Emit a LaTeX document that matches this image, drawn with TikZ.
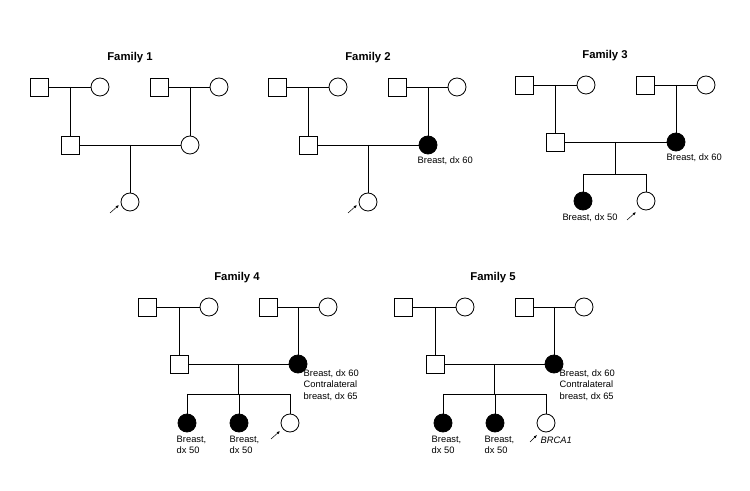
\documentclass[tikz,border=0pt]{standalone}
\usepackage{fontspec}
\setmainfont{Liberation Sans}
\usetikzlibrary{arrows.meta}
\begin{document}
\begin{tikzpicture}[x=0.75pt,y=-0.75pt,line width=0.6pt,
 m/.style={draw,rectangle,minimum size=13.5pt,inner sep=0pt},
 f/.style={draw,circle,minimum size=13.5pt,inner sep=0pt},
 fa/.style={f,fill=black},
 ttl/.style={font=\bfseries\fontsize{8.5}{10}\selectfont},
 lbl/.style={font=\fontsize{7}{8.5}\selectfont,align=left,inner sep=1pt},
 prob/.style={-{Latex[length=2.5pt,width=2pt]},line width=0.4pt}]
\useasboundingbox (0,0) rectangle (750,491);
% Family 1
\node[ttl] (t1) at (130,58) {Family 1};
\node[m] (a1) at (39,87) {}; \node[f] (b1) at (100,87) {};
\node[m] (c1) at (159,87) {}; \node[f] (d1) at (219,87) {};
\node[m] (e1) at (70,145) {}; \node[f] (g1) at (190,145) {};
\node[f] (h1) at (130,202) {};
\coordinate (ab1) at (70,87); \coordinate (cd1) at (190,87); \coordinate (eg1) at (130,145);
\coordinate (p1) at (110,213);
\draw (a1) -- (b1); \draw (c1) -- (d1); \draw (ab1) -- (e1); \draw (cd1) -- (g1);
\draw (e1) -- (g1); \draw (eg1) -- (h1);
\draw[prob] (p1) -- ++(9,-8);
% Family 2
\node[ttl] (t2) at (368,58) {Family 2};
\node[m] (a2) at (277,87) {}; \node[f] (b2) at (338,87) {};
\node[m] (c2) at (397,87) {}; \node[f] (d2) at (457,87) {};
\node[m] (e2) at (308,145) {}; \node[fa] (g2) at (428,145) {};
\node[f] (h2) at (368,202) {};
\coordinate (ab2) at (308,87); \coordinate (cd2) at (428,87); \coordinate (eg2) at (368,145);
\coordinate (p2) at (348,213);
\draw (a2) -- (b2); \draw (c2) -- (d2); \draw (ab2) -- (e2); \draw (cd2) -- (g2);
\draw (e2) -- (g2); \draw (eg2) -- (h2);
\draw[prob] (p2) -- ++(9,-8);
\node[lbl,anchor=north west] (l2) at (416,155) {Breast, dx 60};
% Family 3
\node[ttl] (t3) at (605,56) {Family 3};
\node[m] (a3) at (524,85) {}; \node[f] (b3) at (586,85) {};
\node[m] (c3) at (645,85) {}; \node[f] (d3) at (706,85) {};
\node[m] (e3) at (555,142) {}; \node[fa] (g3) at (676,142) {};
\coordinate (ab3) at (555,85); \coordinate (cd3) at (676,85); \coordinate (eg3) at (615,142);
\coordinate (s3) at (615,174); \coordinate (sl3) at (583,174); \coordinate (sr3) at (646,174);
\node[fa] (h3) at (583,201) {}; \node[f] (i3) at (646,201) {};
\draw (a3) -- (b3); \draw (c3) -- (d3); \draw (ab3) -- (e3); \draw (cd3) -- (g3);
\draw (e3) -- (g3); \draw (eg3) -- (s3); \draw (sl3) -- (sr3);
\draw (sl3) -- (h3); \draw (sr3) -- (i3);
\node[lbl,anchor=north west] (l3a) at (665,152) {Breast, dx 60};
\node[lbl,anchor=north] (l3b) at (590,212) {Breast, dx 50};
\coordinate (p3) at (627,220);
\draw[prob] (p3) -- ++(9,-8);
% Family 4
\node[ttl] (t4) at (237,278) {Family 4};
\node[m] (a4) at (147,307) {}; \node[f] (b4) at (209,307) {};
\node[m] (c4) at (268,307) {}; \node[f] (d4) at (328,307) {};
\node[m] (e4) at (179,364) {}; \node[fa] (g4) at (298,364) {};
\coordinate (ab4) at (179,307); \coordinate (cd4) at (298,307); \coordinate (eg4) at (238,364);
\coordinate (s4) at (238,394); \coordinate (sl4) at (187,394); \coordinate (sr4) at (290,394);
\coordinate (sm4) at (239,394);
\node[fa] (h4) at (187,423) {}; \node[fa] (i4) at (239,423) {}; \node[f] (j4) at (290,423) {};
\draw (a4) -- (b4); \draw (c4) -- (d4); \draw (ab4) -- (e4); \draw (cd4) -- (g4);
\draw (e4) -- (g4); \draw (eg4) -- (s4); \draw (sl4) -- (sr4);
\draw (sl4) -- (h4); \draw (sm4) -- (i4); \draw (sr4) -- (j4);
\node[lbl,anchor=north west] (l4) at (302,368) {Breast, dx 60\\Contralateral\\breast, dx 65};
\node[lbl,anchor=north west] (l4a) at (175,434) {Breast,\\dx 50};
\node[lbl,anchor=north west] (l4b) at (228,434) {Breast,\\dx 50};
\coordinate (p4) at (271,439);
\draw[prob] (p4) -- ++(9,-8);
% Family 5
\node[ttl] (t5) at (493,278) {Family 5};
\node[m] (a5) at (403,307) {}; \node[f] (b5) at (465,307) {};
\node[m] (c5) at (524,307) {}; \node[f] (d5) at (584,307) {};
\node[m] (e5) at (435,364) {}; \node[fa] (g5) at (554,364) {};
\coordinate (ab5) at (435,307); \coordinate (cd5) at (554,307); \coordinate (eg5) at (494,364);
\coordinate (s5) at (494,394); \coordinate (sl5) at (443,394); \coordinate (sr5) at (546,394);
\coordinate (sm5) at (495,394);
\node[fa] (h5) at (443,423) {}; \node[fa] (i5) at (495,423) {}; \node[f] (j5) at (546,423) {};
\draw (a5) -- (b5); \draw (c5) -- (d5); \draw (ab5) -- (e5); \draw (cd5) -- (g5);
\draw (e5) -- (g5); \draw (eg5) -- (s5); \draw (sl5) -- (sr5);
\draw (sl5) -- (h5); \draw (sm5) -- (i5); \draw (sr5) -- (j5);
\node[lbl,anchor=north west] (l5) at (558,368) {Breast, dx 60\\Contralateral\\breast, dx 65};
\node[lbl,anchor=north west] (l5a) at (430,434) {Breast,\\dx 50};
\node[lbl,anchor=north west] (l5b) at (483,434) {Breast,\\dx 50};
\coordinate (p5) at (530,442);
\draw[prob] (p5) -- ++(7,-7);
\node[lbl,anchor=west,font=\itshape\fontsize{7}{8.5}\selectfont] (l5c) at (539,440) {BRCA1};
\end{tikzpicture}
\end{document}
